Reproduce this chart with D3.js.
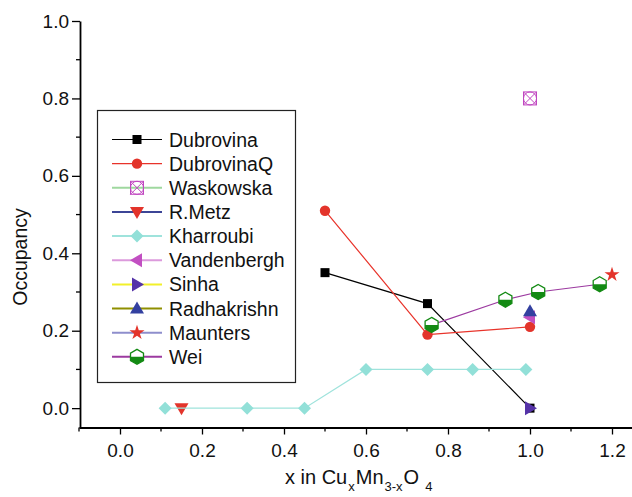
<!DOCTYPE html>
<html>
<head>
<meta charset="utf-8">
<script src="https://cdn.jsdelivr.net/npm/d3@7"></script>
<style>
  body { margin: 0; background: #fff; }
  text { font-family: "Liberation Sans", Arial, sans-serif; fill: #111; }
</style>
</head>
<body>
<div id="chart"></div>
<script>
// Data
var seriesNames = ["Dubrovina", "DubrovinaQ", "Waskowska", "R.Metz", "Kharroubi",
  "Vandenbergh", "Sinha", "Radhakrishn", "Maunters", "Wei"];

var dubrovinaX = [0.5, 0.75, 1.0];
var dubrovinaY = [0.35, 0.27, 0.0];
var dubrovinaQX = [0.5, 0.75, 1.0];
var dubrovinaQY = [0.51, 0.19, 0.21];
var waskowskaX = [1.0];
var waskowskaY = [0.80];
var metzX = [0.15];
var metzY = [0.0];
var kharroubiX = [0.11, 0.31, 0.45, 0.6, 0.75, 0.86, 0.99];
var kharroubiY = [0.0, 0.0, 0.0, 0.1, 0.1, 0.1, 0.1];
var vandenberghX = [1.0];
var vandenberghY = [0.235];
var sinhaX = [1.0];
var sinhaY = [0.0];
var radhakrishnX = [1.0];
var radhakrishnY = [0.25];
var mauntersX = [1.2];
var mauntersY = [0.345];
var weiX = [0.76, 0.94, 1.02, 1.17];
var weiY = [0.215, 0.28, 0.30, 0.32];

var xMajorTicks = [0.0, 0.2, 0.4, 0.6, 0.8, 1.0, 1.2];
var xMinorTicks = [-0.1, 0.1, 0.3, 0.5, 0.7, 0.9, 1.1];
var yMajorTicks = [0.0, 0.2, 0.4, 0.6, 0.8, 1.0];
var yMinorTicks = [0.1, 0.3, 0.5, 0.7, 0.9];

// Styles (kept apart from the values)
var lineColors = ["#000000", "#e8332a", "#9fd89f", "#3c4596", "#9fe3dc",
  "#dc9adc", "#f2f02a", "#8f8f00", "#8e8ecc", "#9c3aa0"];
var markerColors = ["#000000", "#e3342b", "#c046c0", "#e3342b", "#92e0d8",
  "#c24fc2", "#5533a8", "#3340a0", "#e3342b", "#138a13"];
var markerShapes = ["square", "circle", "crossbox", "triDown", "diamond",
  "triLeft", "triRight", "triUp", "star", "hexHalf"];

var allX = [dubrovinaX, dubrovinaQX, waskowskaX, metzX, kharroubiX,
  vandenberghX, sinhaX, radhakrishnX, mauntersX, weiX];
var allY = [dubrovinaY, dubrovinaQY, waskowskaY, metzY, kharroubiY,
  vandenberghY, sinhaY, radhakrishnY, mauntersY, weiY];

var svgWidth = 632;
var svgHeight = 497;

var svg = d3.select("#chart")
  .append("svg")
  .attr("width", svgWidth)
  .attr("height", svgHeight);

var xScale = d3.scaleLinear().domain([-0.1, 1.25]).range([79, 632.5]);
var yScale = d3.scaleLinear().domain([-0.05, 1.0]).range([427.5, 21]);

// Marker drawing helper
function drawMarker(g, shape, color) {
  if (shape === "square") {
    g.append("rect").attr("x", -4.5).attr("y", -4.5).attr("width", 9).attr("height", 9)
      .attr("fill", color);
  } else if (shape === "circle") {
    g.append("circle").attr("r", 5.2).attr("fill", color);
  } else if (shape === "crossbox") {
    var s = 6.5;
    g.append("rect").attr("x", -s).attr("y", -s).attr("width", 2 * s).attr("height", 2 * s)
      .attr("fill", "none").attr("stroke", color).attr("stroke-width", 1);
    g.append("path").attr("d", `M${-s},${-s}L${s},${s}M${s},${-s}L${-s},${s}`)
      .attr("stroke", color).attr("stroke-width", 1);
    g.append("circle").attr("r", s).attr("fill", "none").attr("stroke", color).attr("stroke-width", 1);
  } else if (shape === "diamond") {
    var d = 6.5;
    g.append("path").attr("d", `M0,${-d}L${d},0L0,${d}L${-d},0Z`).attr("fill", color);
  } else if (shape === "triDown") {
    g.append("path").attr("d", "M-7,-5L7,-5L0,7Z").attr("fill", color);
  } else if (shape === "triUp") {
    g.append("path").attr("d", "M-7,5L7,5L0,-7Z").attr("fill", color);
  } else if (shape === "triLeft") {
    g.append("path").attr("d", "M5,-7L5,7L-7,0Z").attr("fill", color);
  } else if (shape === "triRight") {
    g.append("path").attr("d", "M-5,-7L-5,7L7,0Z").attr("fill", color);
  } else if (shape === "star") {
    g.append("path").attr("d", d3.symbol().type(d3.symbolStar).size(70)()).attr("fill", color);
  } else if (shape === "hexHalf") {
    var r = 7.5, c = r * Math.cos(Math.PI / 6);
    var hex = `M0,${-r}L${c},${-r / 2}L${c},${r / 2}L0,${r}L${-c},${r / 2}L${-c},${-r / 2}Z`;
    g.append("path").attr("d", hex).attr("fill", "#fff");
    g.append("path").attr("d", `M${-c},0L${c},0L${c},${r / 2}L0,${r}L${-c},${r / 2}Z`)
      .attr("fill", color);
    g.append("path").attr("d", hex).attr("fill", "none").attr("stroke", color).attr("stroke-width", 1.3);
  }
}

// Axes
var bottomAxis = d3.axisBottom(xScale).tickValues(xMajorTicks).tickSize(7)
  .tickFormat(d3.format(".1f")).tickSizeOuter(0);
var leftAxis = d3.axisLeft(yScale).tickValues(yMajorTicks).tickSize(8)
  .tickFormat(d3.format(".1f")).tickSizeOuter(0);

var xAxisG = svg.append("g")
  .attr("transform", `translate(0, ${yScale(-0.05)})`)
  .call(bottomAxis);
xAxisG.selectAll(".tick text").attr("font-size", 19).attr("dy", "1.0em")
  .attr("font-family", "Liberation Sans, Arial, sans-serif").attr("fill", "#111");
xAxisG.selectAll("line.minor").data(xMinorTicks).enter().append("line")
  .attr("class", "minor")
  .attr("x1", d => xScale(d)).attr("x2", d => xScale(d))
  .attr("y1", 0).attr("y2", 4).attr("stroke", "#000").attr("stroke-width", 1.3);

var yAxisG = svg.append("g")
  .attr("transform", `translate(${xScale(-0.1) + 1}, 0)`)
  .call(leftAxis);
yAxisG.selectAll(".tick text").attr("font-size", 19).attr("x", -11)
  .attr("font-family", "Liberation Sans, Arial, sans-serif").attr("fill", "#111");
yAxisG.selectAll("line.minor").data(yMinorTicks).enter().append("line")
  .attr("class", "minor")
  .attr("y1", d => yScale(d)).attr("y2", d => yScale(d))
  .attr("x1", 0).attr("x2", -4).attr("stroke", "#000").attr("stroke-width", 1.3);

svg.selectAll(".domain").attr("stroke", "#000").attr("stroke-width", 1.8);
svg.selectAll(".tick line").attr("stroke", "#000").attr("stroke-width", 1.3);

// Axis titles
svg.append("text")
  .attr("transform", "translate(27, 257) rotate(-90)")
  .attr("text-anchor", "middle")
  .attr("font-size", 19.5)
  .text("Occupancy");

var xTitle = svg.append("text")
  .attr("x", 285).attr("y", 484)
  .attr("font-size", 20);
xTitle.append("tspan").text("x in Cu");
xTitle.append("tspan").attr("font-size", 13).attr("dx", 1).attr("dy", 7).text("x");
xTitle.append("tspan").attr("dx", 1).attr("dy", -7).text("Mn");
xTitle.append("tspan").attr("font-size", 13).attr("dx", 1).attr("dy", 7).text("3-x");
xTitle.append("tspan").attr("dx", 1).attr("dy", -7).text("O");
xTitle.append("tspan").attr("font-size", 13).attr("dx", 6).attr("dy", 7).text("4");

// Series lines and markers
var line = d3.line().x(d => xScale(d[0])).y(d => yScale(d[1]));

seriesNames.forEach(function(name, i) {
  var pts = allX[i].map((x, j) => [x, allY[i][j]]);
  if (pts.length > 1) {
    svg.append("path")
      .datum(pts)
      .attr("d", line)
      .attr("fill", "none")
      .attr("stroke", lineColors[i])
      .attr("stroke-width", 1.2);
  }
  pts.forEach(function(p) {
    var g = svg.append("g").attr("transform", `translate(${xScale(p[0])}, ${yScale(p[1])})`);
    drawMarker(g, markerShapes[i], markerColors[i]);
  });
});

// Legend
var legend = svg.append("g");
legend.append("rect")
  .attr("x", 97.5).attr("y", 110.5)
  .attr("width", 198).attr("height", 272)
  .attr("fill", "#fff").attr("stroke", "#222").attr("stroke-width", 1.2);

var legendRows = legend.selectAll("g.row")
  .data(seriesNames)
  .enter()
  .append("g")
  .attr("class", "row")
  .attr("transform", (d, i) => `translate(0, ${139.5 + i * 24.15})`);

legendRows.append("line")
  .attr("x1", 112).attr("x2", 162)
  .attr("y1", 0).attr("y2", 0)
  .attr("stroke", (d, i) => lineColors[i])
  .attr("stroke-width", (d, i) => i === 0 || i === 1 ? 1.2 : 2);

legendRows.each(function(d, i) {
  var g = d3.select(this).append("g").attr("transform", "translate(137, 0)");
  drawMarker(g, markerShapes[i], markerColors[i]);
});

legendRows.append("text")
  .attr("x", 169)
  .attr("y", 0)
  .attr("dy", "0.36em")
  .attr("font-size", 19.5)
  .text(d => d);
</script>
</body>
</html>
